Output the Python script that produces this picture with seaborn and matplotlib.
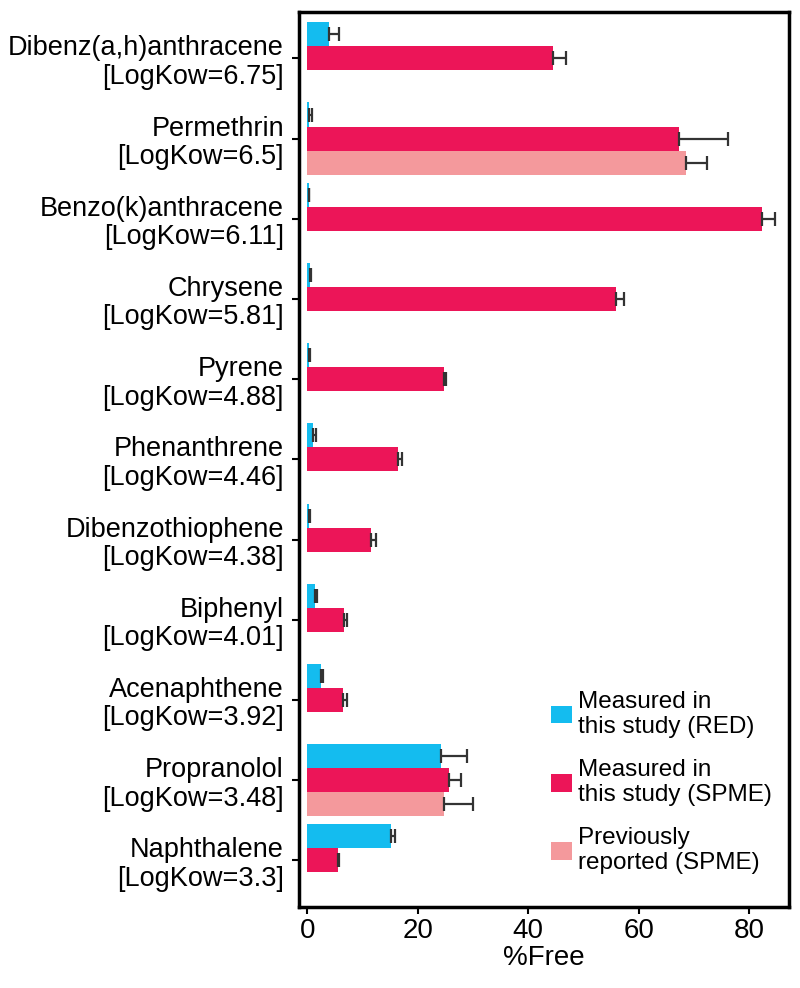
import numpy as np
import pandas as pd
import seaborn as sns
import matplotlib.pyplot as plt

# compounds, top to bottom
compounds = ['Dibenz(a,h)anthracene\n[LogKow=6.75]', 'Permethrin\n[LogKow=6.5]',
             'Benzo(k)anthracene\n[LogKow=6.11]', 'Chrysene\n[LogKow=5.81]',
             'Pyrene\n[LogKow=4.88]', 'Phenanthrene\n[LogKow=4.46]',
             'Dibenzothiophene\n[LogKow=4.38]', 'Biphenyl\n[LogKow=4.01]',
             'Acenaphthene\n[LogKow=3.92]', 'Propranolol\n[LogKow=3.48]',
             'Naphthalene\n[LogKow=3.3]']

red_mean = [4.0, 0.4, 0.3, 0.5, 0.4, 1.1, 0.4, 1.45, 2.5, 24.3, 15.1]
red_err = [1.8, 0.4, 0.1, 0.2, 0.1, 0.5, 0.1, 0.35, 0.3, 4.7, 0.8]
spme_mean = [44.5, 67.3, 82.3, 56.0, 24.8, 16.5, 11.6, 6.75, 6.45, 25.7, 5.5]
spme_err = [2.3, 8.9, 2.4, 1.4, 0.3, 0.7, 0.9, 0.45, 0.75, 2.1, 0.3]
prev_mean = [np.nan, 68.6, np.nan, np.nan, np.nan, np.nan, np.nan, np.nan, np.nan, 24.8, np.nan]
prev_err = [np.nan, 3.8, np.nan, np.nan, np.nan, np.nan, np.nan, np.nan, np.nan, 5.2, np.nan]

series = ['Measured in\nthis study (RED)', 'Measured in\nthis study (SPME)', 'Previously\nreported (SPME)']
colors = ['#14BCEF', '#EC1558', '#F4999C']

df = pd.concat([
    pd.DataFrame({'compound': compounds, 'free': m, 'err': e, 'series': s})
    for m, e, s in zip([red_mean, spme_mean, prev_mean], [red_err, spme_err, prev_err], series)
], ignore_index=True)

sns.set_style('white')
plt.rcParams['font.family'] = ['Liberation Sans', 'DejaVu Sans']
plt.rcParams['text.color'] = 'black'
plt.rcParams['axes.labelcolor'] = 'black'
plt.rcParams['xtick.color'] = 'black'
plt.rcParams['ytick.color'] = 'black'

fig = plt.figure(figsize=(8, 9.88), dpi=100)
ax = fig.add_axes([0.374, 0.082, 0.612, 0.906])

sns.barplot(data=df, y='compound', x='free', hue='series', order=compounds,
            hue_order=series, palette=dict(zip(series, colors)), orient='h',
            width=0.9, errorbar=None, linewidth=0, saturation=1, ax=ax)

# one-sided error bars on each drawn bar
for cont, s in zip(ax.containers, series):
    sub = df[(df['series'] == s) & df['free'].notna()]
    for bar, err in zip(cont, sub['err']):
        ax.errorbar(bar.get_width(), bar.get_y() + bar.get_height() / 2,
                    xerr=[[0], [err]], fmt='none', ecolor='#333333',
                    elinewidth=1.6, capsize=5, capthick=1.6)

ax.set_xlim(-1.45, 87.2)
ax.set_ylim(10.58, -0.58)
ax.set_xticks([0, 20, 40, 60, 80])
ax.set_xlabel('%Free', fontsize=20, labelpad=1)
ax.set_ylabel('')
ax.tick_params(axis='x', labelsize=20, length=5, width=1.5, direction='out', bottom=True, pad=3)
ax.tick_params(axis='y', labelsize=19.5, length=5, width=1.5, direction='out', left=True, pad=6)
for lbl in ax.get_yticklabels():
    lbl.set_multialignment('right')
    lbl.set_linespacing(1.12)
for sp in ax.spines.values():
    sp.set_visible(True)
    sp.set_color('black')
    sp.set_linewidth(2.5)

ax.legend(loc='lower right', bbox_to_anchor=(1.01, 0.012), frameon=False, fontsize=17.5,
          handlelength=0.85, handleheight=0.75, handletextpad=0.25, labelspacing=0.85)

fig.savefig('out.png', dpi=100)
